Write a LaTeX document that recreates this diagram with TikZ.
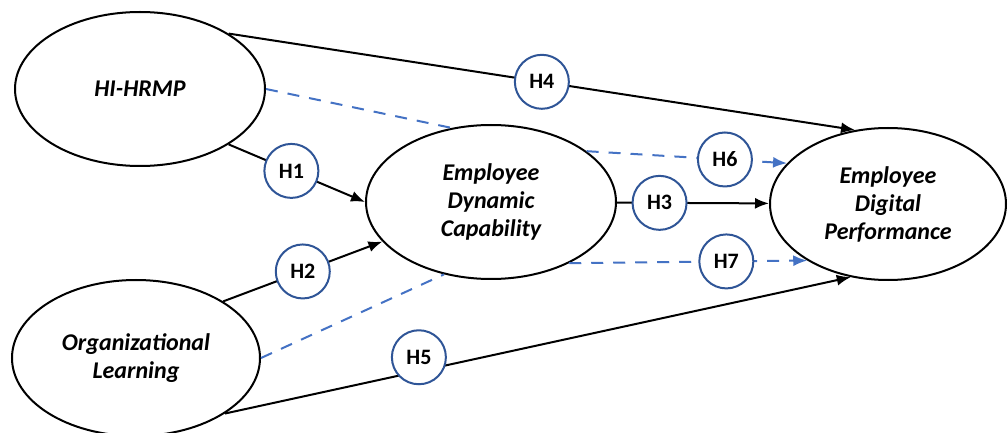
\documentclass[tikz,border=0pt]{standalone}
\usepackage{fontspec}
\setmainfont{Carlito}
\usetikzlibrary{shapes.geometric, arrows.meta}

\definecolor{hypblue}{RGB}{47,85,151}
\definecolor{corrblue}{RGB}{68,114,196}

\tikzset{
	construct/.style={draw, ellipse, line width=1pt, fill=white, inner sep=0pt, align=center, font=\bfseries\itshape\fontsize{12}{14}\selectfont},
	hyp/.style={draw=hypblue, solid, text=black, circle, line width=1pt, fill=white, minimum size=27pt, inner sep=0pt, font=\bfseries\fontsize{11}{13}\selectfont},
	link/.style={line width=1pt, -{Latex[length=7pt, width=5.5pt]}},
	corr/.style={line width=1pt, corrblue, dash pattern=on 6pt off 5pt},
}

\begin{document}
\begin{tikzpicture}[x=0.5pt, y=-0.5pt]
	\useasboundingbox (0,0) rectangle (1008,433);
	
	% constructs
	\node[construct, minimum width=125pt, minimum height=77pt] (hrmp) at (140,89) {HI-HRMP};
	\node[construct, minimum width=124pt, minimum height=78pt] (orgl) at (136,358) {Organizational\\Learning};
	\node[construct, minimum width=125pt, minimum height=77pt] (edc) at (491,202) {Employee\\Dynamic\\Capability};
	\node[construct, minimum width=118pt, minimum height=76pt] (edp) at (888,204) {Employee\\Digital\\Performance};
	
	% correlations
	\draw[corr] (hrmp.east) -- (edc.118);
	\draw[corr] (orgl.east) -- (edc.-123);
	
	% hypotheses
	\draw[link] (hrmp.32) -- node[hyp] (h4) {H4} (edp.114);
	\draw[link] (hrmp.-32) -- node[hyp, pos=0.46] (h1) {H1} (edc.180);
	\draw[link] (orgl.33) -- node[hyp] (h2) {H2} (edc.-160);
	\draw[link] (edc) -- node[hyp, pos=0.28] (h3) {H3} (edp);
	\draw[link] (orgl.-32) -- node[hyp, pos=0.31, yshift=7pt] (h5) {H5} (edp.-117);
	\draw[corr, link] (edc.28) -- node[hyp, pos=0.69] (h6) {H6} (edp.158);
	\draw[corr, link] (edc.-38) -- node[hyp, pos=0.66] (h7) {H7} (edp.-145);
\end{tikzpicture}
\end{document}
